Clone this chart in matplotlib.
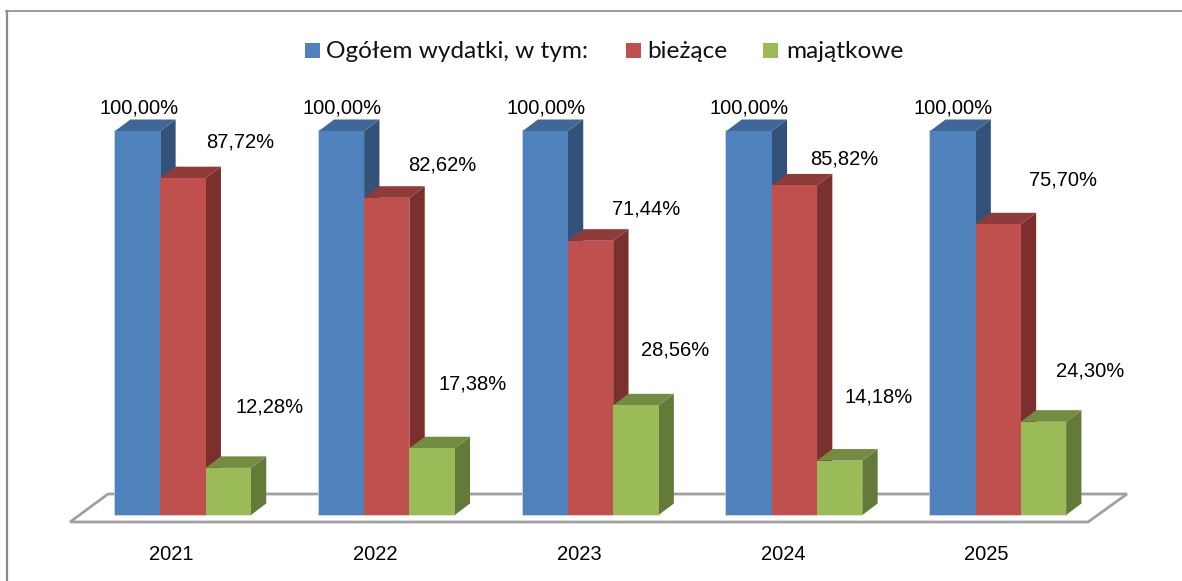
import numpy as np
import matplotlib
matplotlib.use("Agg")
import matplotlib.pyplot as plt
from matplotlib.patches import Polygon, Rectangle
from matplotlib.lines import Line2D

years = ["2021", "2022", "2023", "2024", "2025"]
total = [100.00, 100.00, 100.00, 100.00, 100.00]
current = [87.72, 82.62, 71.44, 85.82, 75.70]
capital = [12.28, 17.38, 28.56, 14.18, 24.30]
series_names = ["Ogółem wydatki, w tym:", "bieżące", "majątkowe"]
label_px = {  # label centres in pixels
    0: [(139, 108), (240, 142), (270, 407)],
    1: [(342, 108), (442, 165), (473, 384)],
    2: [(546, 108), (646, 209), (675, 350)],
    3: [(749, 108), (844, 159), (879, 397)],
    4: [(953, 108), (1063, 180), (1090, 371)],
}
front = ["#4F81BD", "#C0504D", "#9BBB59"]
top = ["#3F6797", "#8F3B39", "#748C42"]
side = ["#32527A", "#7B302E", "#647A39"]
edge = ["#B9CDE5", "#E6B9B8", "#D7E4BD"]

W, H = 1182, 581
fig = plt.figure(figsize=(W / 100, H / 100), dpi=100, facecolor="white")
ax = fig.add_axes([0, 0, 1, 1])
ax.axis("off")

# data scales: one category = 203.8 px, one percent = 3.84 px
PX_CAT, PX_PCT = 203.8, 3.84
X0_PX, Y0_PX = 183.0, 515.0
ax.set_xlim(-X0_PX / PX_CAT, (W - X0_PX) / PX_CAT)
ax.set_ylim(-(H - Y0_PX) / PX_PCT, Y0_PX / PX_PCT)
bw = 45.3 / PX_CAT
dx, dy = 15.3 / PX_CAT, 11.5 / PX_PCT


def px(x, y):
    return (x - X0_PX) / PX_CAT, (Y0_PX - y) / PX_PCT


num_font = "Liberation Sans"
num_size = 14.5

# chart frame
for a, b, lw in [((6.5, 581), (6.5, 10.5), 1.6), ((6, 10.5), (1182, 10.5), 1.2)]:
    p, q = px(*a), px(*b)
    ax.add_line(Line2D([p[0], q[0]], [p[1], q[1]], color="#8C8C8C", lw=lw, zorder=1))
# floor
ax.add_patch(Polygon([px(70, 522), px(108, 494), px(1127, 494), px(1088, 522)], closed=True,
                     fc="white", ec="#A0A0A0", lw=2.0, zorder=2, joinstyle="miter"))

series = [total, current, capital]
for i in range(len(years)):
    for s, vals in enumerate(series):
        l = i + (s - 1.5) * bw
        r = l + bw
        v = vals[i]
        z = 3 + s
        ax.add_patch(Rectangle((l, 0), bw, v, fc="none", ec=edge[s], lw=1.2, zorder=2.5))
        ax.add_patch(Polygon([(r, 0), (r + dx, dy), (r + dx, v + dy), (r, v)], closed=True,
                             fc=side[s], ec="none", zorder=z))
        ax.add_patch(Polygon([(l, v), (l + dx, v + dy), (r + dx, v + dy), (r, v)], closed=True,
                             fc=top[s], ec="none", zorder=z))
        ax.add_patch(Rectangle((l, 0), bw, v, fc=front[s], ec="none", zorder=z + 0.1))
        cx, cy = px(*label_px[i][s])
        ax.text(cx, cy, f"{v:.2f}%".replace(".", ","), ha="center", va="center",
                family=num_font, fontsize=num_size, color="black", zorder=10)
    tx, ty = px(171.5 + 203.8 * i, 555)
    ax.text(tx, ty, years[i], ha="center", va="center", family=num_font,
            fontsize=num_size, color="black")

# legend
leg_sw = [305, 626, 763]
leg_tx = [326, 647, 786]
for s, name in enumerate(series_names):
    x0, y0 = px(leg_sw[s], 58)
    ax.add_patch(Rectangle((x0, y0), 15 / PX_CAT, 15 / PX_PCT, fc=front[s], ec="none"))
    tx, ty = px(leg_tx[s], 51)
    ax.text(tx, ty, name, ha="left", va="center", family="Lato", fontsize=17.6, color="#111111")

fig.savefig("out.png", dpi=100)
